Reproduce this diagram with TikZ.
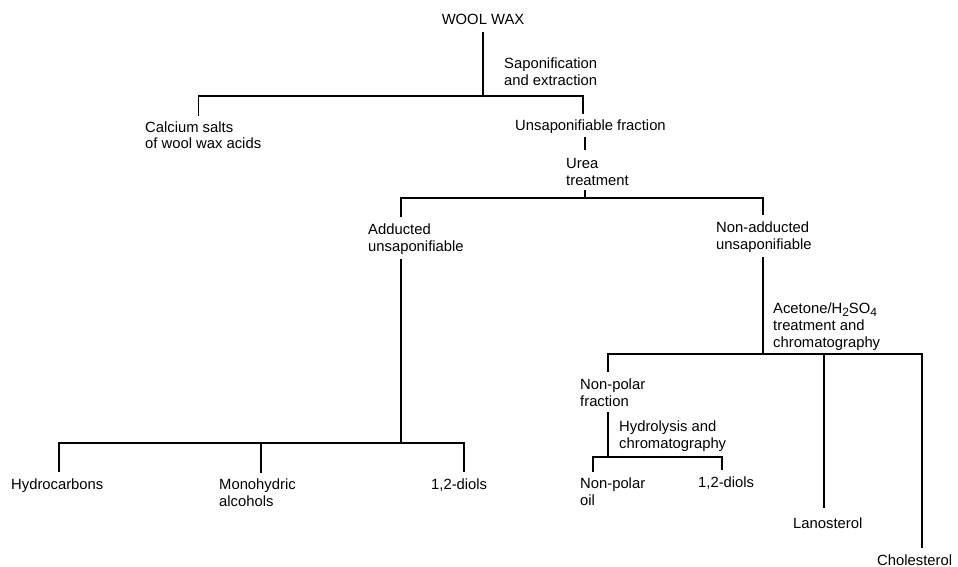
\documentclass[tikz,border=0pt]{standalone}
\usepackage{fontspec}
\setmainfont{Liberation Sans}
\newcommand{\chemsub}[1]{\raisebox{-3.5pt}{\fontsize{12}{12}\selectfont #1}}
\begin{document}
\begin{tikzpicture}[x=1pt,y=-1pt,
  txt/.style={font=\fontsize{14.8}{17}\selectfont, inner sep=0pt, align=left, anchor=base west},
  ln/.style={line width=1.2pt},
  barln/.style={line width=1.7pt, line join=miter}]
\useasboundingbox (0,0) rectangle (958,567);

% texts (base anchor = baseline of the last line)
\node[txt, anchor=base] (ww) at (483,25) {WOOL WAX};
\node[txt] (sap) at (504,86) {Saponification\\and extraction};
\node[txt] (cal) at (145,149) {Calcium salts\\of wool wax acids};
\node[txt] (unsap) at (515,131) {Unsaponifiable fraction};
\node[txt] (urea) at (566,185) {Urea\\treatment};
\node[txt] (add) at (368,251) {Adducted\\unsaponifiable};
\node[txt] (nadd) at (716,249) {Non-adducted\\unsaponifiable};
\node[txt] (acet) at (773,347) {Acetone/H\chemsub{2}SO\chemsub{4}\\treatment and\\chromatography};
\node[txt] (npf) at (580,406) {Non-polar\\fraction};
\node[txt] (hyd) at (619,448) {Hydrolysis and\\chromatography};
\node[txt] (hc) at (11,489) {Hydrocarbons};
\node[txt] (mono) at (219,506) {Monohydric\\alcohols};
\node[txt] (diolA) at (431,489) {1,2-diols};
\node[txt] (npo) at (580,505) {Non-polar\\oil};
\node[txt] (diolB) at (698,487) {1,2-diols};
\node[txt] (lano) at (793,528) {Lanosterol};
\node[txt] (chol) at (877,565) {Cholesterol};

% junction coordinates
\coordinate (a0) at (483,32);   \coordinate (a1) at (483,96);
\coordinate (b1L) at (198.5,96); \coordinate (b1R) at (583,96);
\coordinate (c1) at (198.5,116); \coordinate (c2) at (583,114);
\coordinate (u0) at (585,137);  \coordinate (u1) at (585,150);
\coordinate (u2) at (585,190);  \coordinate (u3) at (585,198);
\coordinate (b2L) at (401,198); \coordinate (b2R) at (763,198);
\coordinate (d1) at (401,217);  \coordinate (d2) at (763,215);
\coordinate (e0) at (401,259);  \coordinate (e1) at (401,443);
\coordinate (b3L) at (59,443);  \coordinate (b3M) at (261,443); \coordinate (b3R) at (464,443);
\coordinate (h1) at (59,472);   \coordinate (h2) at (261,473);  \coordinate (h3) at (464,472);
\coordinate (f0) at (763,257);  \coordinate (f1) at (763,354);
\coordinate (b4L) at (608,354); \coordinate (b4M) at (824,354); \coordinate (b4R) at (922,354);
\coordinate (k1) at (608,372);  \coordinate (k2) at (824,508);  \coordinate (k3) at (922,548);
\coordinate (g0) at (608,412);  \coordinate (g1) at (608,457);
\coordinate (b5L) at (593,457); \coordinate (b5R) at (722,457);
\coordinate (m1) at (593,472);  \coordinate (m2) at (722,470);

% connectors
\draw[ln] (a0) -- (a1);
\draw[barln] (c1) -- (b1L) -- (b1R) -- (c2);
\draw[ln] (u0) -- (u1);
\draw[ln] (u2) -- (u3);
\draw[barln] (d1) -- (b2L) -- (b2R) -- (d2);
\draw[ln] (e0) -- (e1);
\draw[barln] (h1) -- (b3L) -- (b3R) -- (h3);
\draw[ln] (b3M) -- (h2);
\draw[ln] (f0) -- (f1);
\draw[barln] (k1) -- (b4L) -- (b4R) -- (k3);
\draw[ln] (b4M) -- (k2);
\draw[ln] (g0) -- (g1);
\draw[barln] (m1) -- (b5L) -- (b5R) -- (m2);
\end{tikzpicture}
\end{document}
